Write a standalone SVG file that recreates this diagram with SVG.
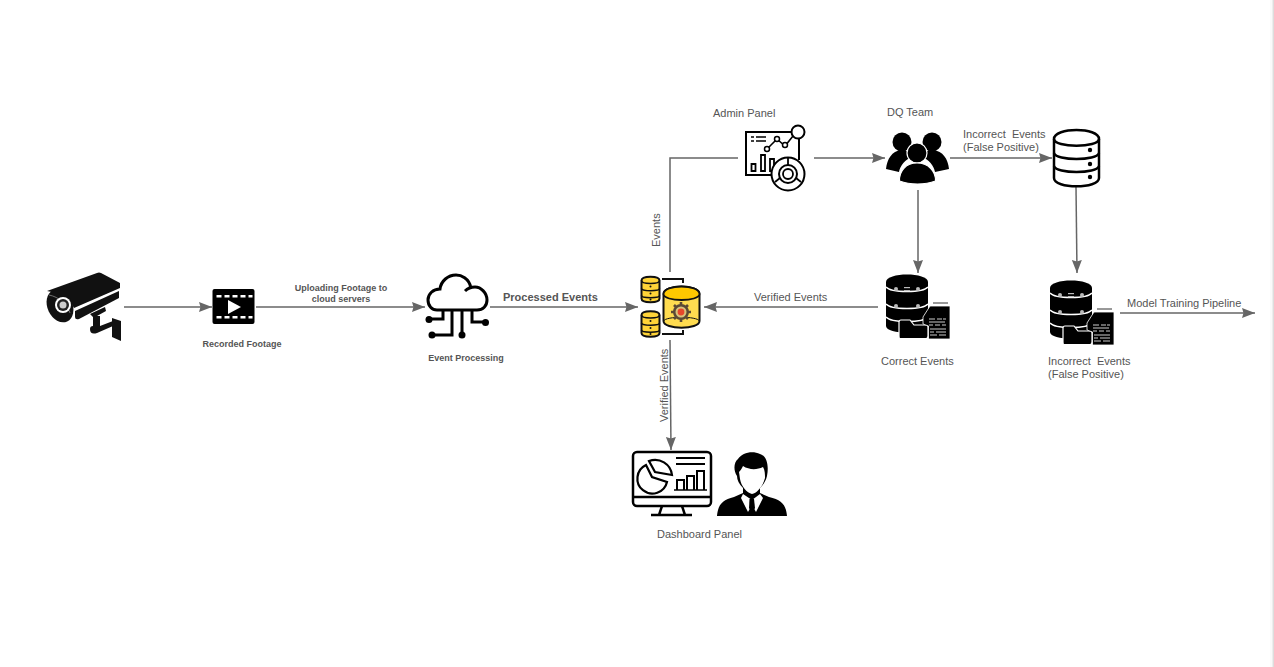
<svg xmlns="http://www.w3.org/2000/svg" xmlns:xlink="http://www.w3.org/1999/xlink" width="1274" height="667" viewBox="0 0 1274 667">
<style>
text{font-family:"Liberation Sans",Arial,sans-serif;fill:#555;font-size:11px;white-space:pre}
.b{font-weight:bold;font-size:9px}
.c{stroke:#666;stroke-width:1.5;fill:none}
.a{marker-end:url(#h)}
.o{fill:none;stroke:#000;stroke-width:3}
.y{fill:#ffd438;stroke:#111;stroke-width:2}
.k{fill:#000}
.w{fill:#fff}
</style>
<defs>
<marker id="h" markerUnits="userSpaceOnUse" markerWidth="14" markerHeight="12" refX="13" refY="6" orient="auto"><path d="M0 1L13 6L0 11L1.500 6Z" fill="#666"/></marker>
<g id="smalldb">
<path class="y" d="M-9 -9C-9 -14 9 -14 9 -9V9C9 14 -9 14 -9 9Z"/>
<path d="M-9 -9C-9 -5 9 -5 9 -9M-9 -1C-9 2 9 2 9 -1M-9 6C-9 9 9 9 9 6" fill="none" stroke="#111" stroke-width="1.6"/>
<circle cx="0" cy="-3" r="1" fill="#111"/><circle cx="0" cy="4" r="1" fill="#111"/><circle cx="0" cy="10" r="1" fill="#111"/>
</g>
<g id="blackdb">
<path class="k" d="M886 282C886 272 928 272 928 282V326C928 335 886 335 886 326Z"/>
<path d="M886 287C891 293 923 293 928 287M886 304C891 310 923 310 928 304M886 317C891 323 923 323 928 317" fill="none" stroke="#fff" stroke-width="1.3"/>
<g fill="#bbb"><circle cx="896" cy="289" r="2"/><circle cx="918" cy="289" r="2"/><rect x="904" y="287" width="6" height="1.2"/><rect x="904" y="290" width="6" height="1.2"/><circle cx="896" cy="306" r="2"/><circle cx="918" cy="306" r="2"/></g>
<path d="M900 338.500Q899 338.500 899 336V322Q899 320 901 320H910L914 325H926Q928 325 928 327V336Q928 338.500 926 338.500Z" fill="#000" stroke="#fff" stroke-width="1.2"/>
<path d="M923 317L930 306H950V339H928.500V326L923 324Z" fill="#000" stroke="#fff" stroke-width="0.8"/>
<path d="M933 303H948" stroke="#333" stroke-width="1"/>
<path d="M929 319h6m2 0h5m1 0h3M929 322h16M929 325h4m2 0h5m2 0h4M930 329h16M930 332h4m2 0h10M930 335h7m2 0h7" stroke="#ccc" stroke-width="1" fill="none"/>
</g>
</defs>
<rect width="1274" height="667" fill="#fff"/>
<g id="connectors">
<path class="c a" d="M124 307H212"/>
<path class="c a" d="M256 307H425"/>
<path class="c a" d="M490 307H638"/>
<path class="c a" d="M878 307H704"/>
<path class="c" d="M670 272V158H738"/>
<path class="c a" d="M814 158H885"/>
<path class="c a" d="M950 158H1052"/>
<path class="c a" d="M918 190V273"/>
<path class="c a" d="M1076 187L1077 273"/>
<path class="c a" d="M1120 313H1255"/>
<path class="c a" d="M670 340L671 450"/>
</g>
<g id="camera">
<path fill="#111" d="M47 291L97 273Q99 272 101 273L120 283V288L74 308C70 299 60 293 47 291Z"/>
<path fill="#111" d="M75 311L119 291V298L79 319Q75 320 75 317Z"/>
<ellipse cx="60" cy="306" rx="12.500" ry="17" transform="rotate(-25 60 306)" fill="#111"/>
<path d="M49 295C59 297 67 304 70 313" fill="none" stroke="#888" stroke-width="0.8"/>
<circle cx="63" cy="305" r="8" fill="#fff"/><circle cx="63" cy="305" r="6" fill="#222"/><circle cx="63" cy="305" r="3.500" fill="#ccc"/>
<path fill="#111" d="M90 314L105 307L106 311L97 316H100V326L113 321V326L97 333Q90 335 90 329Q90 326 93 326V317Z"/>
<path fill="#111" d="M112 318L121 321V341L112 337Z"/>
</g>
<g id="footage">
<rect x="212.500" y="289" width="42" height="35" rx="2" class="k"/>
<path d="M216.500 295h5v2.500h-5zM224.500 295h5v2.500h-5zM232.500 295h5v2.500h-5zM240.500 295h5v2.500h-5zM248.500 295h4v2.500h-4zM216.500 316h5v2.500h-5zM224.500 316h5v2.500h-5zM232.500 316h5v2.500h-5zM240.500 316h5v2.500h-5zM248.500 316h4v2.500h-4z" class="w"/>
<path d="M228 300L241 307L228 314Z" class="w"/>
<text class="b" x="242" y="347" text-anchor="middle">Recorded Footage</text>
</g>
<text class="b" text-anchor="middle" x="341" y="291">Uploading Footage to</text>
<text class="b" text-anchor="middle" x="341" y="302">cloud servers</text>
<g id="event-processing">
<path class="o" d="M471 288C469 278 461 275 456 275C448 275 441 281 440 289C433 289 428 294 428 300C428 306 432 310 437 310H477C483 310 487 306 487 300C487 293 481 287 475 287C472 287 468 288 465 291"/>
<path class="o" d="M452 310V335H432M443 310V319H429M462 310V335M472 310V322H485"/>
<circle cx="429" cy="319.500" r="3.500"/><circle cx="432" cy="335" r="3.500"/><circle cx="462" cy="335" r="3.500"/><circle cx="485.500" cy="322.500" r="3.500"/>
<text class="b" x="466" y="361" text-anchor="middle">Event Processing</text>
</g>
<text x="503" y="301" font-weight="bold" style="font-size:11px">Processed Events</text>
<g id="database-hub">
<use href="#smalldb" x="650.500" y="289.500"/>
<use href="#smalldb" x="650.500" y="324"/>
<path d="M662 279H683V283M662 334H683V330" fill="none" stroke="#111" stroke-width="2"/>
<path d="M663.500 294C663.500 284 699.500 284 699.500 294V321C699.500 330 663.500 330 663.500 321Z" fill="#ffdc50" stroke="#111" stroke-width="2"/>
<path d="M663.500 294C663.500 284 699.500 284 699.500 294C699.500 302 663.500 302 663.500 294Z" fill="#ffc800" stroke="#111" stroke-width="1.800"/>
<path d="M663.500 321C666 316 697 316 699.500 321" fill="none" stroke="#111" stroke-width="1"/>
<circle cx="681" cy="312" r="8" fill="#5c4a35"/>
<path d="M681 302V322M671 312H691M674 305L688 319M688 305L674 319" stroke="#5c4a35" stroke-width="2.600"/>
<circle cx="681" cy="312" r="5.500" fill="#d9c27a"/>
<circle cx="681" cy="312" r="3.400" fill="#e8472b"/>
</g>
<g id="admin-panel">
<text x="713" y="117">Admin Panel</text>
<path d="M791 132H746V175H771M799 139V160" fill="none" stroke="#000" stroke-width="2"/>
<path d="M751 137h3M756 137h10M751 141h3M756 141h10" stroke="#000" stroke-width="1.500"/>
<circle cx="798" cy="132" r="6.500" fill="#fff" stroke="#000" stroke-width="2"/>
<path d="M767 149L777 139L785 146L793 136" fill="none" stroke="#000" stroke-width="1.600"/>
<circle cx="767" cy="149" r="2.500" fill="#fff" stroke="#000" stroke-width="1.500"/><circle cx="777" cy="139" r="2.500" fill="#fff" stroke="#000" stroke-width="1.500"/><circle cx="785" cy="145" r="2.500" fill="#fff" stroke="#000" stroke-width="1.500"/>
<path d="M751.500 164h4v7h-4zM761 155h4v16h-4zM770 159h4v12h-4z" fill="none" stroke="#000" stroke-width="1.800"/>
<circle cx="788" cy="174" r="16.500" fill="#fff" stroke="#000" stroke-width="2"/>
<circle cx="788" cy="174" r="9" fill="#fff" stroke="#000" stroke-width="2"/>
<circle cx="788" cy="174" r="5" fill="#fff" stroke="#000" stroke-width="1.800"/>
<path d="M788 158V165M775 182L780 178M801 182L796 178" stroke="#000" stroke-width="1.800"/>
</g>
<g id="dq-team">
<text x="887" y="116">DQ Team</text>
<circle cx="902" cy="142" r="9.500"/><circle cx="932" cy="142" r="9.500"/>
<path d="M886 169C887 159 892 151 901 150C907 150 911 153 913 157C905 159 900 166 899 172Z"/>
<path d="M949 169C948 159 943 151 933 150C927 150 923 153 921 157C929 159 934 166 935 172Z"/>
<circle cx="917" cy="153" r="10" stroke="#fff" stroke-width="1.200"/>
<path d="M899.500 181C899 171 906 163 917 163C928 163 936 171 935.500 181C925 185 910 185 899.500 181Z" stroke="#fff" stroke-width="1.200"/>
</g>
<text x="963" y="138">Incorrect  Events</text>
<text x="963" y="151">(False Positive)</text>
<g id="event-store">
<path d="M1054 139C1054 127 1099 127 1099 139V178C1099 189 1054 189 1054 178Z" fill="#fff" stroke="#000" stroke-width="2.500"/>
<path d="M1054 139C1054 148 1099 148 1099 139M1054 153C1056 161 1097 161 1099 153M1054 166C1056 174 1097 174 1099 166" fill="none" stroke="#000" stroke-width="2.500"/>
<circle cx="1090" cy="150" r="2.200"/><circle cx="1090" cy="164" r="2.200"/><circle cx="1090" cy="177" r="2.200"/>
</g>
<g id="correct-events">
<use href="#blackdb"/>
<text x="881" y="365">Correct Events</text>
</g>
<g id="incorrect-events">
<use href="#blackdb" x="164" y="6"/>
<text x="1048" y="365">Incorrect  Events</text>
<text x="1048" y="378">(False Positive)</text>
</g>
<text x="1127" y="307">Model Training Pipeline</text>
<text x="754" y="301">Verified Events</text>
<text transform="translate(660 247) rotate(-90)">Events</text>
<text transform="translate(668 422) rotate(-90)">Verified Events</text>
<g id="dashboard-panel">
<rect x="633" y="452" width="78" height="54" rx="4" fill="#fff" stroke="#000" stroke-width="2.500"/>
<path d="M633 497H711M662 506L659 515M682 506L685 515M651 515H692" stroke="#000" stroke-width="2.500" fill="none"/>
<path d="M676 458H705M676 464H705" stroke="#000" stroke-width="2"/>
<path d="M646 465A15 15 0 1 0 667 482L652 477Z" fill="#fff" stroke="#000" stroke-width="2.200"/>
<path d="M655 472L649 461A17 17 0 0 1 672 475Z" fill="#fff" stroke="#000" stroke-width="2.200"/>
<path d="M677 490V480H684V490M687 490V476H694V490M697 490V471H704V490" fill="none" stroke="#000" stroke-width="2"/>
<path d="M674 490H707" stroke="#000" stroke-width="1.500"/>
</g>
<g id="dashboard-user">
<path class="k" d="M717 516C718 505 722 500 734 497L743 493V488C739 484 737 480 737 476C733 470 734 462 738 459C742 453 752 450 760 454C767 456 769 466 767 476C766 481 763 485 760 488V493L769 497C782 500 786 505 787 516Z"/>
<path class="w" d="M739 472C741 470 742 468 743 466C749 470 757 470 763 467C765 470 765 475 765 478C763 486 757 493 752 494C747 493 741 486 740 479Z"/>
<path class="w" d="M743 494L752 500L760 494L763 498L756 512L752 505L748 512L741 498Z"/>
<path class="k" d="M749.500 499H754L755 508L752 514L749 508Z"/>
</g>
<text x="657" y="538">Dashboard Panel</text>
<rect x="1270" y="0" width="2.500" height="667" fill="#fafafa"/>
<rect x="1272.500" y="0" width="1.500" height="667" fill="#ddd"/>
</svg>
